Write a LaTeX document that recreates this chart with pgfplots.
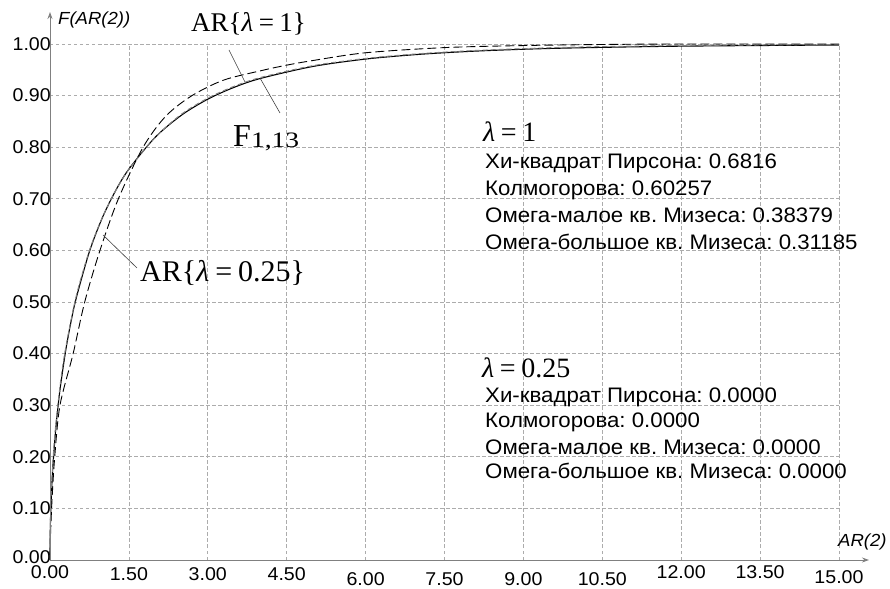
\documentclass[border=0pt]{standalone}
\usepackage{fontspec}
\setmainfont{Liberation Sans}[FakeStretch=1.06]
\newfontfamily\serif{Liberation Serif}[Numbers=Lining]
\newfontfamily\serifwide{Liberation Serif}[Numbers=Lining, FakeStretch=1.25]
\usepackage{pgfplots}
\pgfplotsset{compat=1.18}
\usetikzlibrary{arrows.meta}
\frenchspacing
\newcommand\tl[2]{\raisebox{#1}[13pt][0pt]{#2}}
\newcommand\eq{\hspace{0.2em}=\hspace{0.2em}}
\begin{document}
\begin{tikzpicture}
\begin{axis}[
  width=789pt, height=516pt, scale only axis,
  xmin=0, xmax=15, ymin=0, ymax=1,
  clip=false,
  axis line style={draw=none},
  major tick style={draw=none},
  xtick={0,1.5,3,4.5,6,7.5,9,10.5,12,13.5,15},
  xticklabels={\tl{0pt}{0.00},\tl{-2pt}{1.50},\tl{-2pt}{3.00},\tl{-2pt}{4.50},\tl{-7pt}{6.00},\tl{-7pt}{7.50},\tl{-7pt}{9.00},\tl{-7pt}{10.50},\tl{0pt}{12.00},\tl{0pt}{13.50},\tl{-5pt}{15.00}},
  ytick={0,0.1,0.2,0.3,0.4,0.5,0.6,0.7,0.8,0.9,1},
  yticklabels={\raisebox{5pt}{0.00},0.10,0.20,0.30,0.40,0.50,0.60,0.70,0.80,0.90,1.00},
  /pgf/number format/assume math mode=true,
  ticklabel style={font=\fontsize{18.5}{18.5}\selectfont},
  xticklabel style={anchor=north, inner sep=0pt, yshift=-5pt},
  yticklabel style={anchor=east, inner sep=0pt, xshift=1pt},
  grid=major,
  major grid style={gray!65, dash pattern=on 3.5pt off 2.5pt, line width=0.7pt},
]
% F_{1,13}
\addplot[black, line width=1.1pt, smooth] coordinates {
(0,0) (0.001,0.0247) (0.003,0.0428) (0.005,0.0553) (0.01,0.0782) (0.02,0.1103)
(0.05,0.1735) (0.1,0.2432) (0.15,0.2953) (0.2,0.3379) (0.3,0.4068) (0.4,0.4621)
(0.5,0.5080) (0.75,0.5978) (1,0.6644) (1.25,0.7162) (1.5,0.7576) (2,0.8192)
(2.5,0.8621) (3,0.8931) (3.5,0.9160) (4,0.9332) (5,0.9565) (6,0.9708)
(7,0.9798) (8,0.9858) (9,0.9898) (10,0.9925) (12,0.9958) (15,0.9981)};
% AR lambda = 1
\addplot[gray, line width=1pt, dash pattern=on 5pt off 3pt, smooth] coordinates {
(0,0) (0.005,0.060) (0.01,0.085) (0.02,0.118) (0.05,0.182) (0.1,0.252)
(0.2,0.345) (0.3,0.412) (0.5,0.512) (0.75,0.600) (1,0.665) (1.25,0.716)
(1.5,0.757) (2,0.819) (2.5,0.864) (3,0.895) (3.5,0.918) (4,0.935)
(5,0.958) (6,0.972) (7,0.981) (8,0.987) (9,0.991) (10,0.994) (12,0.997) (15,0.999)};
% AR lambda = 0.25
\addplot[black, line width=0.9pt, dash pattern=on 9pt off 4pt, smooth] coordinates {
(0,0) (0.01,0.05) (0.04,0.12) (0.09,0.20) (0.19,0.30) (0.44,0.40) (0.66,0.50)
(0.95,0.60) (1.3,0.70) (1.77,0.80) (2.2,0.86) (2.7,0.90) (3.3,0.93) (4,0.948)
(4.5,0.959) (5,0.968) (6,0.983) (7.5,0.993) (9,0.997) (10.5,0.999) (12,1.0) (15,1.0)};
\draw[gray, line width=0.9pt, -{Stealth[length=7pt,width=5pt]}] (axis cs:0,0) -- (axis cs:15.57,0);
\draw[gray, line width=0.9pt, -{Stealth[length=7pt,width=5pt]}] (axis cs:0,0) -- (axis cs:0,1.062);
\end{axis}
% axis titles
\node[anchor=base west, inner sep=0pt] at (8pt,535pt) {\fontsize{17.5}{17.5}\selectfont\itshape F(AR(2))};
\node[anchor=base west, inner sep=0pt] at (788pt,13pt) {\fontsize{17.5}{17.5}\selectfont\itshape AR(2)};
% leader lines
\draw[black!75, line width=0.6pt] (179pt,510pt) -- (195pt,478pt);
\draw[black!75, line width=0.6pt] (230pt,447pt) -- (210pt,482pt);
\draw[black!75, line width=0.6pt] (87pt,292pt) -- (53pt,325pt);
% curve labels
\node[anchor=base west, inner sep=0pt] at (141pt,528pt) {\serif\fontsize{27}{27}\selectfont AR\{\textit{λ}\eq 1\}};
\node[anchor=base west, inner sep=0pt] at (183pt,413pt) {\serif\fontsize{32}{32}\selectfont F\raisebox{-1pt}{\serifwide\fontsize{22}{22}\selectfont 1,13}};
\node[anchor=base west, inner sep=0pt] at (90pt,278pt) {\serif\fontsize{30}{30}\selectfont AR\{\textit{λ}\eq 0.25\}};
% statistics
\node[anchor=base west, inner sep=0pt] at (433pt,418pt) {\serif\fontsize{28}{28}\selectfont\textit{λ}\eq 1};
\begin{scope}[every node/.style={anchor=base west, inner sep=0pt, font=\fontsize{21}{21}\selectfont}]
\node at (435pt,391pt) {Хи-квадрат Пирсона: 0.6816};
\node at (435pt,364pt) {Колмогорова: 0.60257};
\node at (435pt,337pt) {Омега-малое кв. Мизеса: 0.38379};
\node at (435pt,310pt) {Омега-большое кв. Мизеса: 0.31185};
\node at (435pt,157pt) {Хи-квадрат Пирсона: 0.0000};
\node at (435pt,132pt) {Колмогорова: 0.0000};
\node at (435pt,105pt) {Омега-малое кв. Мизеса: 0.0000};
\node at (435pt,81pt) {Омега-большое кв. Мизеса: 0.0000};
\end{scope}
\node[anchor=base west, inner sep=0pt] at (432pt,182pt) {\serif\fontsize{28}{28}\selectfont\textit{λ}\eq 0.25};
\pgfresetboundingbox
\path[use as bounding box] (-50pt,-28pt) rectangle (840pt,560pt);
\end{tikzpicture}
\end{document}
